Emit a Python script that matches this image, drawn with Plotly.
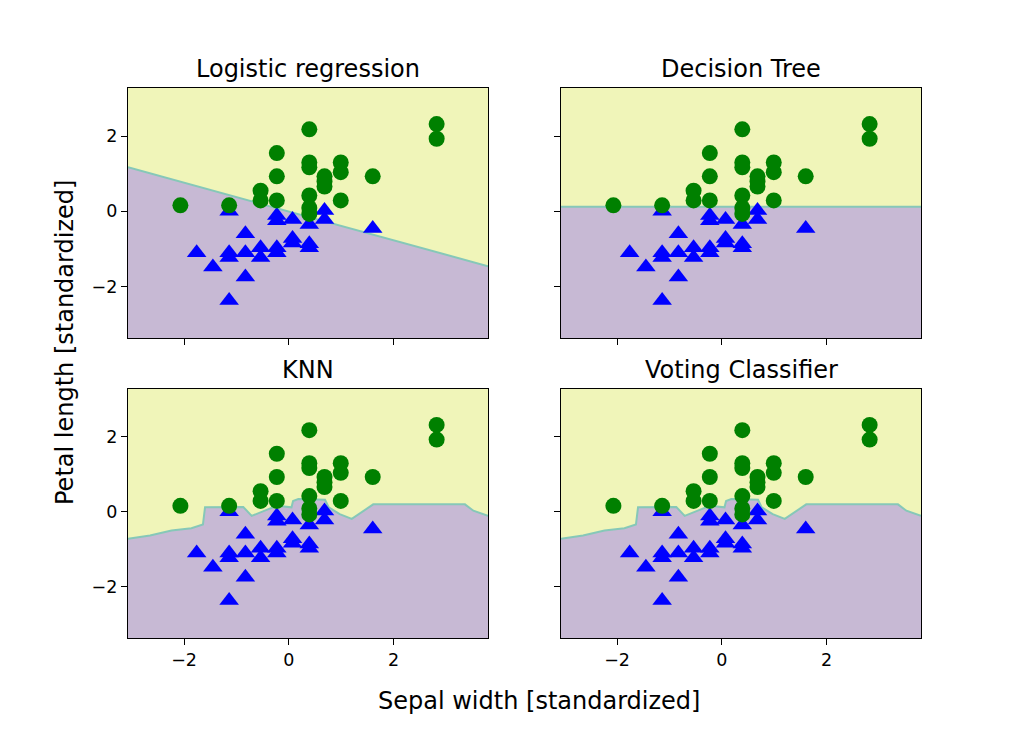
import plotly.graph_objects as go

# ── Colours ───────────────────────────────────────────────────────────────────
YELLOW = "#f0f5b9"
PURPLE = "#c7b9d4"
EDGE   = "#86c8b8"
GREEN  = "#008000"
BLUE   = "#0000ff"
FONT   = "DejaVu Sans"

# ── Data (standardized iris, versicolor vs virginica) ─────────────────────────
X_MIN, X_MAX = -3.07, 3.80
Y_MIN, Y_MAX = -3.37, 3.28

# class 0: blue triangles
sepal_w_0 = [-1.14, -0.23, -0.23, 0.07, 0.39, 0.68, 0.68, -0.83, 1.60, 0.07,
             0.07, 0.39, 0.39, -1.76, -1.14, -1.14, -0.83, -0.54, -0.54, -0.23,
             -0.23, -1.45, -0.83, -1.14]
petal_l_0 = [0.00, -0.11, -0.25, -0.22, -0.35, 0.02, -0.22, -0.60, -0.46, -0.72,
             -0.84, -0.86, -0.97, -1.10, -1.10, -1.23, -1.10, -0.97, -1.23, -0.97,
             -1.10, -1.48, -1.75, -2.37]

# class 1: green circles
sepal_w_1 = [-2.07, -1.14, -0.54, -0.54, -0.23, -0.23, -0.23, 0.39, 0.39, 0.39,
             0.39, 0.39, 0.39, 0.68, 0.68, 0.68, 0.99, 0.99, 0.99, 1.60,
             2.82, 2.82]
petal_l_1 = [0.16, 0.16, 0.55, 0.29, 1.55, 0.93, 0.29, 2.18, 1.30, 1.17,
             0.42, 0.09, -0.07, 0.93, 0.79, 0.66, 1.30, 1.04, 0.29, 0.93,
             2.32, 1.93]

# decision boundaries
lr_bx = [-3.07, 3.80]
lr_by = [1.17, -1.46]

tree_bx = [-3.07, 3.80]
tree_by = [0.12, 0.12]

knn_bx = [-3.07, -2.65, -2.24, -1.86, -1.64, -1.60, -0.87, -0.71, -0.46, -0.23,
          0.05, 0.08, 0.18, 0.69, 0.76, 0.97, 1.20, 1.61, 3.36, 3.52, 3.80]
knn_by = [-0.72, -0.63, -0.50, -0.44, -0.34, 0.12, 0.13, -0.11, 0.03, 0.16,
          0.12, 0.29, 0.34, 0.32, 0.12, -0.06, -0.19, 0.20, 0.20, 0.03, -0.11]

vote_bx = [-3.07, -2.65, -2.24, -1.86, -1.64, -1.60, -0.87, -0.71, -0.46, -0.23,
           0.05, 0.08, 0.18, 0.69, 0.76, 0.97, 1.20, 1.61, 3.36, 3.52, 3.80]
vote_by = [-0.72, -0.63, -0.50, -0.44, -0.34, 0.12, 0.13, -0.11, 0.03, 0.16,
           0.12, 0.29, 0.34, 0.32, 0.12, -0.06, -0.19, 0.20, 0.20, 0.03, -0.11]

panels = [
    ("Logistic regression", lr_bx, lr_by),
    ("Decision Tree", tree_bx, tree_by),
    ("KNN", knn_bx, knn_by),
    ("Voting Classifier", vote_bx, vote_by),
]

# pixel layout of the 2x2 grid on the 1024 x 731 page; the page body adds an
# 8px margin, so the figure itself is a bit smaller and offset
PAD = 8
W, H = 1024 - 2 * PAD, 731 - 2 * PAD
col_px = [(128, 488), (561, 921)]
row_px = [(88, 338), (389, 638)]


def fx(px):
    return (px - PAD) / W


def fy(py):
    return 1 - (py - PAD) / H


fig = go.Figure()

for i, (title, bx, by) in enumerate(panels):
    r, c = divmod(i, 2)
    n = i + 1
    xa = "x" if n == 1 else f"x{n}"
    ya = "y" if n == 1 else f"y{n}"

    # lower region (class 0)
    fig.add_trace(go.Scatter(
        x=[X_MIN, X_MAX], y=[Y_MIN - 1, Y_MIN - 1], mode="lines",
        line=dict(width=0), hoverinfo="skip", showlegend=False,
        xaxis=xa, yaxis=ya,
    ))
    fig.add_trace(go.Scatter(
        x=bx, y=by, mode="lines", fill="tonexty", fillcolor=PURPLE,
        line=dict(color=EDGE, width=2), hoverinfo="skip", showlegend=False,
        xaxis=xa, yaxis=ya,
    ))
    fig.add_trace(go.Scatter(
        x=sepal_w_0, y=petal_l_0, mode="markers",
        marker=dict(symbol="triangle-up", size=17, color=BLUE, line=dict(width=0)),
        showlegend=False, xaxis=xa, yaxis=ya,
    ))
    fig.add_trace(go.Scatter(
        x=sepal_w_1, y=petal_l_1, mode="markers",
        marker=dict(symbol="circle", size=16, color=GREEN, line=dict(width=0)),
        showlegend=False, xaxis=xa, yaxis=ya,
    ))

    x0, x1 = col_px[c]
    y0, y1 = row_px[r]
    axis_common = dict(
        showline=True, linecolor="black", linewidth=1.3, mirror=True,
        ticks="outside", ticklen=6, tickwidth=1.3, tickcolor="black",
        showgrid=False, zeroline=False,
        tickvals=[-2, 0, 2], ticktext=["−2", "0", "2"],
        tickfont=dict(family=FONT, size=17.5, color="black"),
    )
    fig.update_layout({
        ("xaxis" if n == 1 else f"xaxis{n}"): dict(
            axis_common, domain=[fx(x0), fx(x1)], range=[X_MIN, X_MAX],
            anchor=ya, showticklabels=(r == 1),
        ),
        ("yaxis" if n == 1 else f"yaxis{n}"): dict(
            axis_common, domain=[fy(y1), fy(y0)], range=[Y_MIN, Y_MAX],
            anchor=xa, showticklabels=(c == 0),
        ),
    })

    fig.add_annotation(
        text=title, xref=f"{xa} domain", yref=f"{ya} domain",
        x=0.5, y=1, xanchor="center", yanchor="bottom", yshift=3,
        showarrow=False, font=dict(family=FONT, size=24, color="black"),
    )

fig.add_annotation(
    text="Sepal width [standardized]", xref="paper", yref="paper",
    x=fx(539), y=fy(701), xanchor="center", yanchor="middle", showarrow=False,
    font=dict(family=FONT, size=24, color="black"),
)
fig.add_annotation(
    text="Petal length [standardized]", xref="paper", yref="paper",
    x=fx(65), y=fy(343), xanchor="center", yanchor="middle", textangle=-90,
    showarrow=False, font=dict(family=FONT, size=24, color="black"),
)

fig.update_layout(
    width=W, height=H,
    margin=dict(l=0, r=0, t=0, b=0),
    paper_bgcolor="white",
    plot_bgcolor=YELLOW,
    font=dict(family=FONT, color="black"),
)

fig.write_html("out.html")
